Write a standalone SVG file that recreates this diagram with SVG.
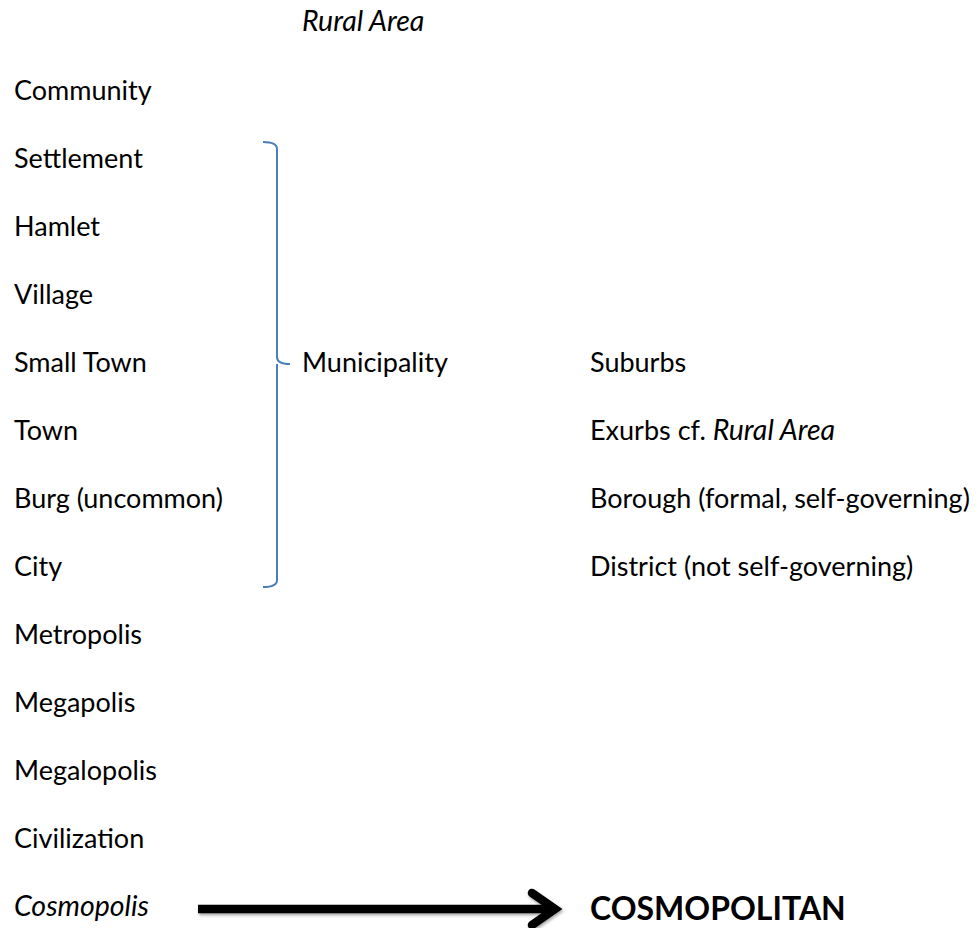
<svg xmlns="http://www.w3.org/2000/svg" width="980" height="928" viewBox="0 0 980 928">
<defs>
<style>
text{font-family:Lato,"Open Sans","Liberation Sans",sans-serif;font-size:27px;fill:#000}
.it{font-style:italic;font-size:28.5px}
.big{font-weight:bold;font-size:32px}
.brace{fill:none;stroke:#4a7ebb;stroke-width:2}
.arrow{fill:none;stroke:#000;stroke-width:8.5}
</style>
<filter id="sh" x="-5%" y="-50%" width="110%" height="200%">
<feDropShadow dx="1" dy="2" stdDeviation="1.5" flood-color="#000" flood-opacity="0.35"/>
</filter>
</defs>
<rect width="980" height="928" fill="#fff"/>
<g id="rural-area"><text class="it" x="302" y="31">Rural Area</text></g>
<g id="left-column">
<text x="14" y="100">Community</text>
<text x="14" y="168">Settlement</text>
<text x="14" y="236">Hamlet</text>
<text x="14" y="304">Village</text>
<text x="14" y="372">Small Town</text>
<text x="14" y="440">Town</text>
<text x="14" y="508">Burg (uncommon)</text>
<text x="14" y="576">City</text>
<text x="14" y="644">Metropolis</text>
<text x="14" y="712">Megapolis</text>
<text x="14" y="780">Megalopolis</text>
<text x="14" y="848">Civilization</text>
<text class="it" x="14" y="916">Cosmopolis</text>
</g>
<g id="municipality"><text x="302" y="372">Municipality</text></g>
<g id="right-column">
<text x="590" y="372">Suburbs</text>
<text x="590" y="440">Exurbs cf. <tspan class="it">Rural Area</tspan></text>
<text x="590" y="508">Borough (formal, self-governing)</text>
<text x="590" y="576">District (not self-governing)</text>
</g>
<g id="cosmopolitan"><text class="big" x="590" y="920">COSMOPOLITAN</text></g>
<g id="connectors">
<path class="brace" d="M263,142 Q277,142 277,149 L277,357 Q277,364 290,364 M277,364 Q277,364 277,371 L277,580 Q277,587 263,587"/>
<g filter="url(#sh)">
<path class="arrow" d="M198,909 L552,909"/>
<path class="arrow" d="M532,893 L555,909 L532,925" stroke-linecap="round" stroke-linejoin="miter"/>
</g>
</g>
</svg>
